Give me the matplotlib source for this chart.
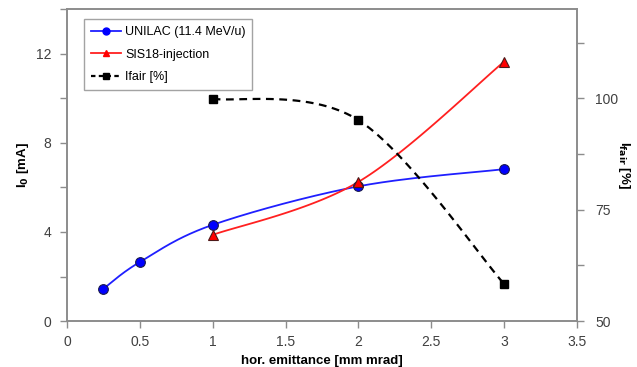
import numpy as np
import matplotlib
matplotlib.use("Agg")
import matplotlib.pyplot as plt
from matplotlib.lines import Line2D

plt.rcParams['font.family'] = ['Liberation Sans', 'DejaVu Sans']

unilac_x = [0.25, 0.5, 1, 2, 3]
unilac_y = [1.45, 2.65, 4.32, 6.05, 6.82]
sis_x = [1, 2, 3]
sis_y = [3.87, 6.25, 11.65]
ifair_x = [1, 2, 3]
ifair_y = [99.9, 95.1, 58.3]

labels = ["UNILAC (11.4 MeV/u)", "SIS18-injection", "Ifair [%]"]


def smooth(xs, ys, n=40):
    # Excel-like smoothed line (Catmull-Rom Bezier)
    P = np.column_stack([xs, ys]).astype(float)
    out = [P[0]]
    for i in range(len(P) - 1):
        p0 = P[i - 1] if i > 0 else P[i]
        p1 = P[i]
        p2 = P[i + 1]
        p3 = P[i + 2] if i + 2 < len(P) else P[i + 1]
        c1 = p1 + (p2 - p0) / 6
        c2 = p2 - (p3 - p1) / 6
        t = np.linspace(0, 1, n)[1:, None]
        seg = ((1 - t) ** 3) * p1 + 3 * ((1 - t) ** 2) * t * c1 + 3 * (1 - t) * t ** 2 * c2 + t ** 3 * p2
        out.extend(seg)
    out = np.array(out)
    return out[:, 0], out[:, 1]


fig = plt.figure(figsize=(6.37, 3.67), dpi=100)
ax = fig.add_axes([0.105, 0.125, 0.801, 0.85])
ax2 = ax.twinx()

sx, sy = smooth(unilac_x, unilac_y)
ax.plot(sx, sy, color='#1f1fff', lw=1.3, zorder=3)
ax.plot(unilac_x, unilac_y, 'o', color='#0000ff', mec='#1a1a4d', mew=0.8, ms=7, zorder=4)

sx, sy = smooth(sis_x, sis_y)
ax.plot(sx, sy, color='#ff2020', lw=1.3, zorder=3)
ax.plot(sis_x, sis_y, '^', color='#ff0000', mec='#4d1a1a', mew=0.8, ms=7.5, zorder=4)

sx, sy = smooth(ifair_x, ifair_y)
ax2.plot(sx, sy, color='black', lw=1.6, ls=(0, (3.5, 2.5)), zorder=3)
ax2.plot(ifair_x, ifair_y, 's', color='black', ms=6, zorder=4)

ax.set_xlim(0, 3.5)
ax.set_ylim(0, 14)
ax2.set_ylim(50, 120)
ax.set_xticks(np.arange(0, 3.51, 0.5))
ax.set_xticklabels(['0', '0.5', '1', '1.5', '2', '2.5', '3', '3.5'])
ax.set_yticks([0, 4, 8, 12])
ax.set_yticks(np.arange(0, 14.1, 2), minor=True)
ax2.set_yticks([50, 75, 100])
ax2.set_yticks(np.arange(50, 120.1, 12.5), minor=True)

spine_c = '#8c8c8c'
for a in (ax, ax2):
    for s in a.spines.values():
        s.set_color(spine_c)
        s.set_linewidth(1.2)
    a.tick_params(which='both', direction='out', color=spine_c, width=1, labelsize=10, labelcolor='#404040')
    a.tick_params(which='major', length=5)
    a.tick_params(which='minor', length=5)
ax.tick_params(axis='x', pad=5)
ax.tick_params(axis='y', pad=6)
ax2.tick_params(axis='y', pad=8)

ax.set_xlabel('hor. emittance [mm mrad]', fontsize=9.5, fontweight='bold', labelpad=4)
ax.set_ylabel('I$_\\mathbf{0}$ [mA]', fontsize=9.5, fontweight='bold', labelpad=4)
ax2.set_ylabel('I$_\\mathbf{fair}$ [%]', fontsize=9.5, fontweight='bold', rotation=270, labelpad=10)

handles = [
    Line2D([], [], color='#1f1fff', marker='o', mfc='#0000ff', mec='#0000ff', ms=5, lw=1.3),
    Line2D([], [], color='#ff2020', marker='^', mfc='#ff0000', mec='#ff0000', ms=5, lw=1.3),
    Line2D([], [], color='black', marker='s', ms=5, lw=1.6, ls=(0, (2, 1.5))),
]
leg = ax.legend(handles, labels, loc='upper left', bbox_to_anchor=(0.033, 0.968), fontsize=9,
                frameon=True, fancybox=False, edgecolor='#8c8c8c', handlelength=2.4,
                borderpad=0.55, labelspacing=0.85, handletextpad=0.35, borderaxespad=0)
leg.get_frame().set_linewidth(1.0)

fig.savefig('out.png', dpi=100)
